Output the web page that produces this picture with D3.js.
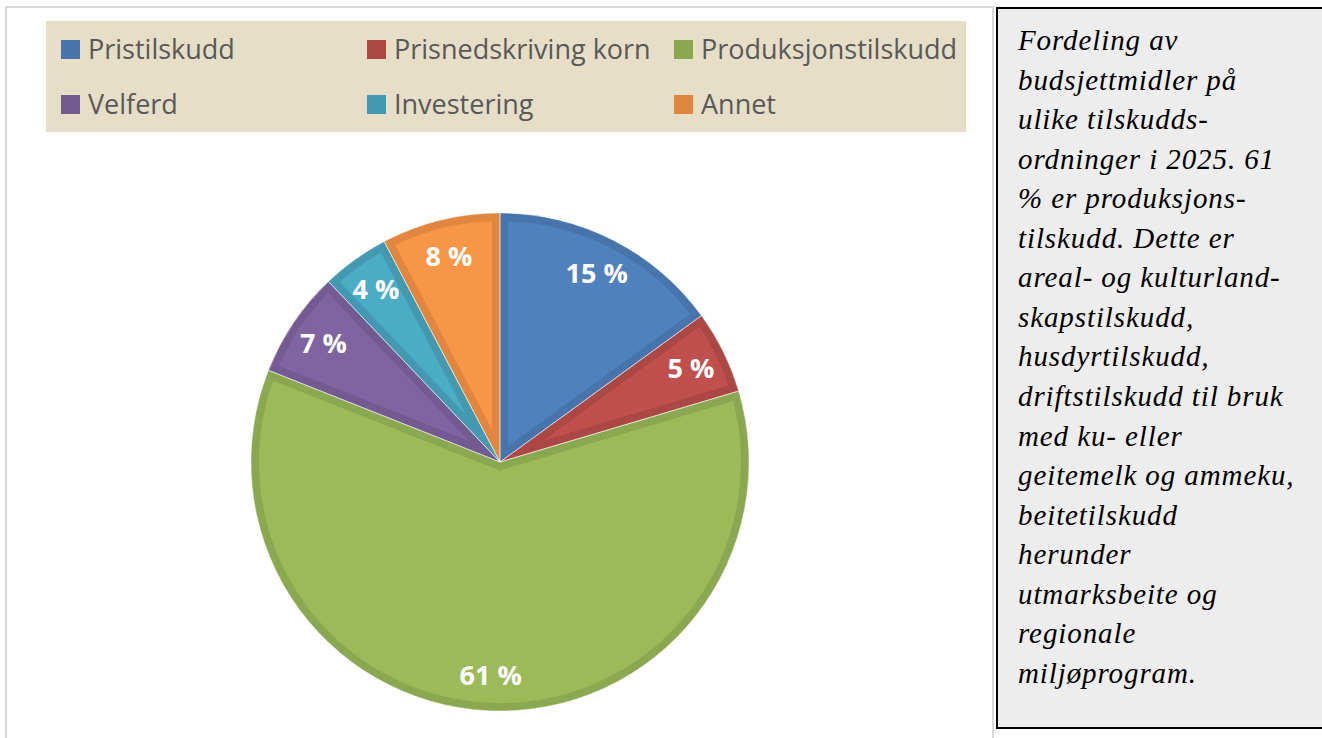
<!DOCTYPE html>
<html>
<head>
<meta charset="utf-8">
<script src="https://cdn.jsdelivr.net/npm/d3@7"></script>
<style>
  body { margin: 0; background: #fff; }
</style>
</head>
<body>
<script>
// data
categories = ["Pristilskudd", "Prisnedskriving korn", "Produksjonstilskudd", "Velferd", "Investering", "Annet"]
shares = [15.0, 5.4, 60.6, 6.9, 4.4, 7.7]
fills = ["#4f81bd", "#c0504d", "#9bbb59", "#8064a2", "#4bacc6", "#f79646"]
borders = ["#4674ab", "#ab4744", "#8aa84f", "#735a91", "#4399b0", "#e0863e"]
noteLines = [
  "Fordeling av", "budsjettmidler på", "ulike tilskudds-", "ordninger i 2025. 61",
  "% er produksjons-", "tilskudd. Dette er", "areal- og kulturland-", "skapstilskudd,",
  "husdyrtilskudd,", "driftstilskudd til bruk", "med ku- eller", "geitemelk og ammeku,",
  "beitetilskudd", "herunder", "utmarksbeite og", "regionale", "miljøprogram."
]

width = 1322
height = 738
cx = 500
cy = 462
radius = 249

svg = d3.select("body")
    .append("svg")
    .attr("width", width)
    .attr("height", height)

// chart frame
svg.append("rect")
    .attr("x", 6).attr("y", 7)
    .attr("width", 987).attr("height", 745)
    .attr("fill", "#fff")
    .attr("stroke", "#d9d9d9")
    .attr("stroke-width", 2)

// legend
svg.append("rect")
    .attr("x", 46).attr("y", 21)
    .attr("width", 920).attr("height", 111)
    .attr("fill", "#e6dec7")

colX = [61, 367, 674]
rowY = [40, 95]
legend = svg.selectAll("g.leg")
    .data(categories)
    .enter()
    .append("g")
    .attr("class", "leg")
    .attr("transform", function(d, i) {
        return "translate(" + colX[i % 3] + "," + rowY[Math.floor(i / 3)] + ")";
    })
legend.append("rect")
    .attr("width", 19).attr("height", 19)
    .attr("fill", function(d, i) { return borders[i]; })
legend.append("text")
    .attr("x", 27).attr("y", 19)
    .attr("font-family", "Open Sans")
    .attr("font-size", 27)
    .attr("fill", "#595959")
    .text(function(d) { return d; })

// pie
pie = d3.pie().sort(null).value(function(d) { return d; })
arcs = pie(shares)
arc = d3.arc().innerRadius(0).outerRadius(radius)
labelArc = d3.arc().innerRadius(213).outerRadius(213)

g = svg.append("g").attr("transform", "translate(" + cx + "," + cy + ")")
defs = svg.append("defs")
arcs.forEach(function(a, i) {
    defs.append("clipPath").attr("id", "clip" + i)
        .append("path").attr("d", arc(a))
})

g.selectAll("path.slice")
    .data(arcs)
    .enter()
    .append("path")
    .attr("class", "slice")
    .attr("d", arc)
    .attr("clip-path", function(d, i) { return "url(#clip" + i + ")"; })
    .attr("fill", function(d, i) { return fills[i]; })
    .attr("stroke", function(d, i) { return borders[i]; })
    .attr("stroke-width", 16)
    .attr("stroke-linejoin", "miter")

g.selectAll("path.edge")
    .data(arcs)
    .enter()
    .append("path")
    .attr("class", "edge")
    .attr("d", arc)
    .attr("fill", "none")
    .attr("stroke", "#ffffff")
    .attr("stroke-opacity", 0.45)
    .attr("stroke-width", 1)

fmt = d3.format(".0f")
g.selectAll("text.lbl")
    .data(arcs)
    .enter()
    .append("text")
    .attr("class", "lbl")
    .attr("transform", function(d) { return "translate(" + labelArc.centroid(d) + ")"; })
    .attr("text-anchor", "middle")
    .attr("dominant-baseline", "central")
    .attr("font-family", "Open Sans")
    .attr("font-weight", "bold")
    .attr("font-size", 27)
    .attr("fill", "#fff")
    .text(function(d) { return fmt(d.data) + " %"; })

// note box
svg.append("rect")
    .attr("x", 997).attr("y", 8)
    .attr("width", 340).attr("height", 720)
    .attr("fill", "#ededed")
    .attr("stroke", "#000")
    .attr("stroke-width", 2)

note = svg.append("text")
    .attr("font-family", "Liberation Serif")
    .attr("font-style", "italic")
    .attr("font-size", 29)
    .attr("letter-spacing", 0.9)
    .attr("fill", "#000")
note.selectAll("tspan")
    .data(noteLines)
    .enter()
    .append("tspan")
    .attr("x", 1018)
    .attr("y", function(d, i) { return 50 + i * 39.56; })
    .text(function(d) { return d; })
</script>
</body>
</html>
